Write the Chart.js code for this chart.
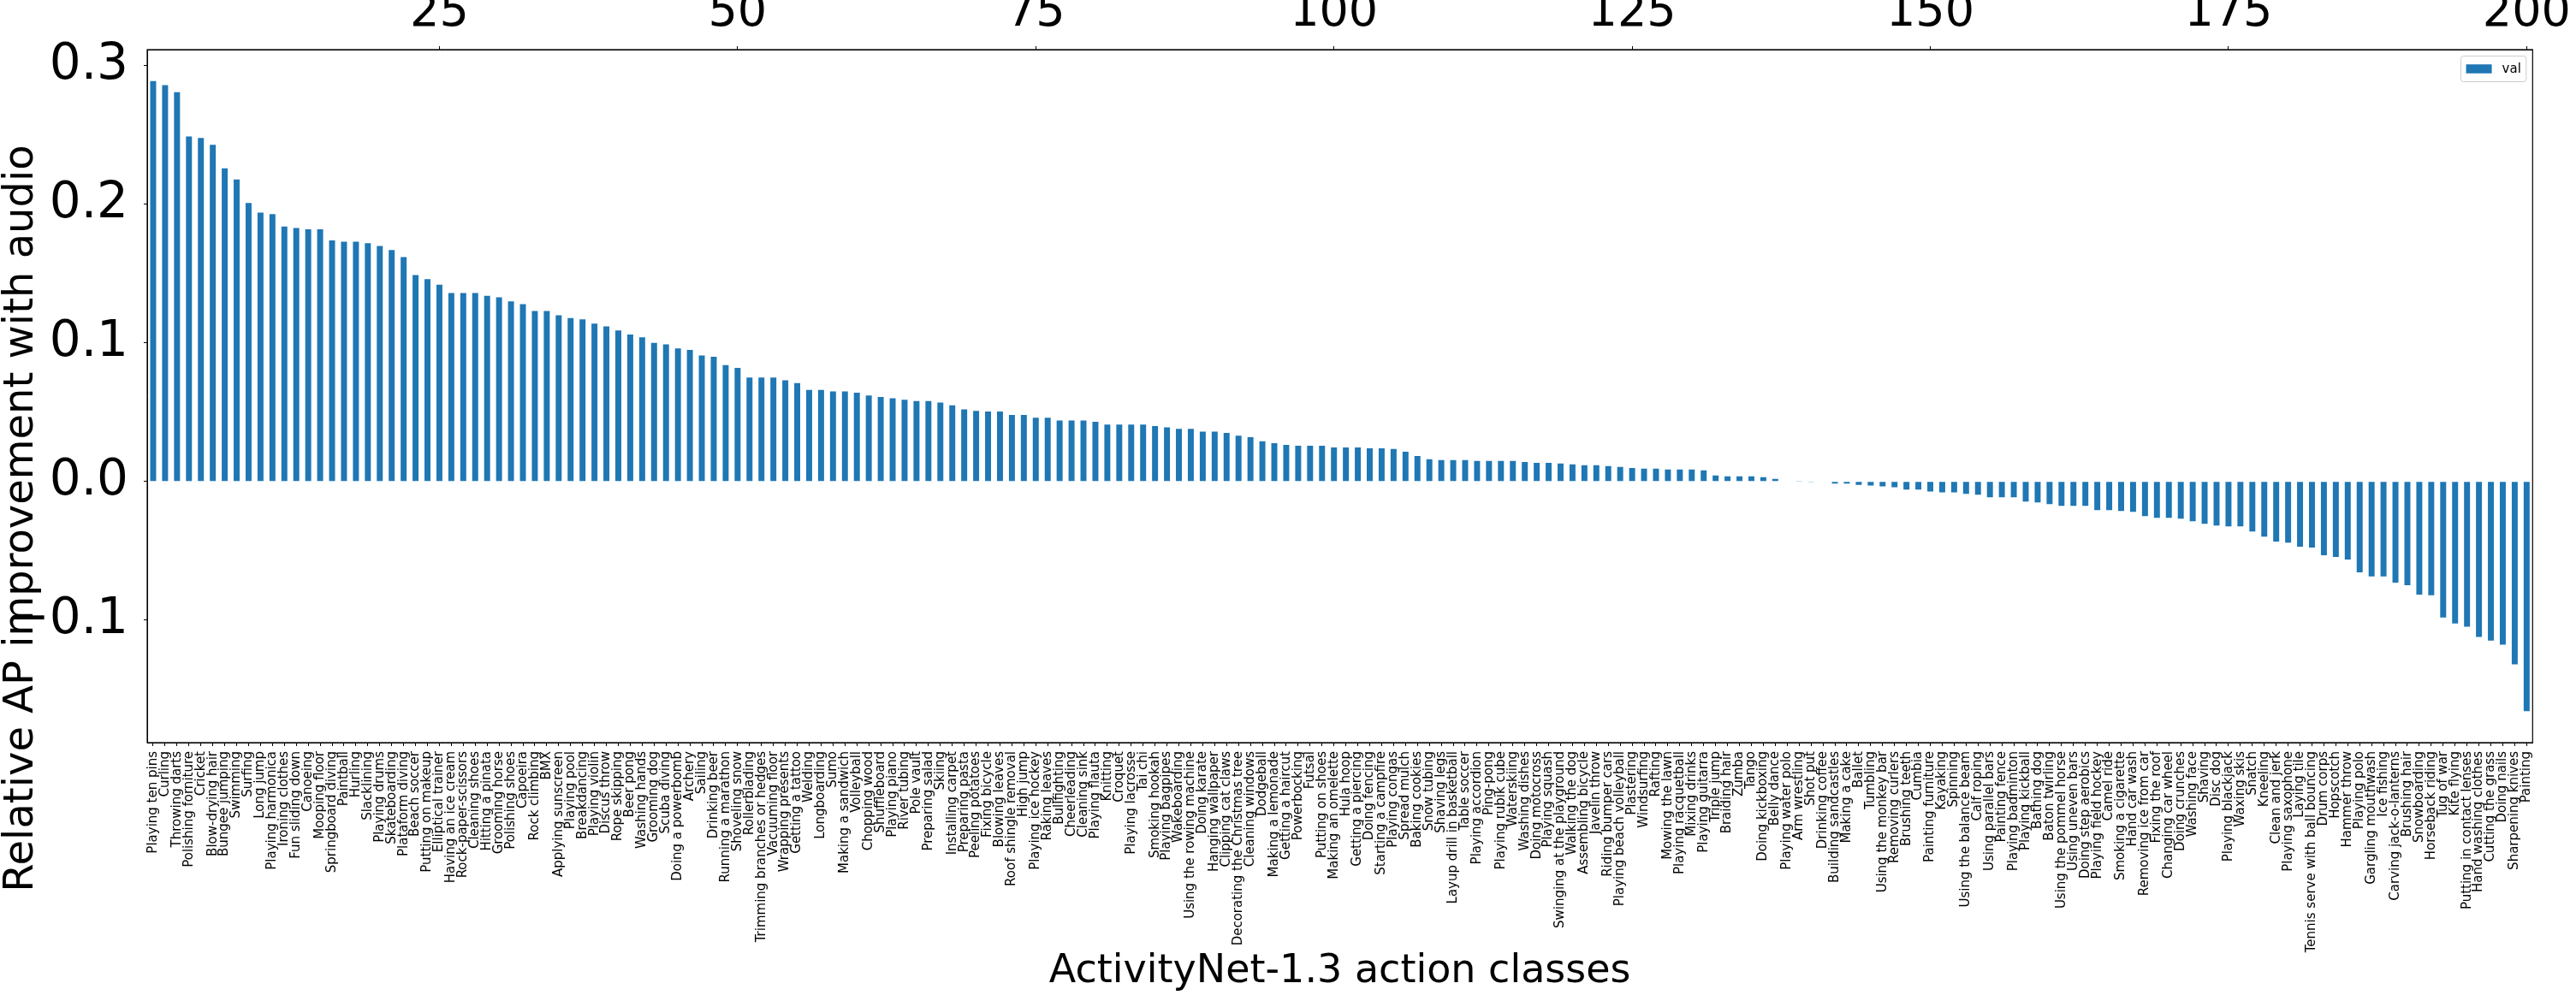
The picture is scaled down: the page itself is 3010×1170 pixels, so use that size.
<!DOCTYPE html>
<html><head><meta charset="utf-8">
<script src="https://cdn.jsdelivr.net/npm/chart.js@4.4.1/dist/chart.umd.min.js"></script>
<style>html,body{margin:0;padding:0;background:#fff;} #wrap{width:3010px;height:1170px;}</style>
</head><body><div id="wrap"><canvas id="c" width="3010" height="1170"></canvas></div>
<script>
const categories = [
"Playing ten pins","Curling","Throwing darts","Polishing forniture","Cricket","Blow-drying hair","Bungee jumping","Swimming","Surfing","Long jump",
"Playing harmonica","Ironing clothes","Fun sliding down","Canoeing","Mooping floor","Springboard diving","Paintball","Hurling","Slacklining","Playing drums",
"Skateboarding","Plataform diving","Beach soccer","Putting on makeup","Elliptical trainer","Having an ice cream","Rock-paper-scissors","Cleaning shoes","Hitting a pinata","Grooming horse",
"Polishing shoes","Capoeira","Rock climbing","BMX","Applying sunscreen","Playing pool","Breakdancing","Playing violin","Discus throw","Rope skipping",
"Beer pong","Washing hands","Grooming dog","Scuba diving","Doing a powerbomb","Archery","Sailing","Drinking beer","Running a marathon","Shoveling snow",
"Rollerblading","Trimming branches or hedges","Vacuuming floor","Wrapping presents","Getting a tattoo","Welding","Longboarding","Sumo","Making a sandwich","Volleyball",
"Chopping wood","Shuffleboard","Playing piano","River tubing","Pole vault","Preparing salad","Skiing","Installing carpet","Preparing pasta","Peeling potatoes",
"Fixing bicycle","Blowing leaves","Roof shingle removal","High jump","Playing ice hockey","Raking leaves","Bullfighting","Cheerleading","Cleaning sink","Playing flauta",
"Knitting","Croquet","Playing lacrosse","Tai chi","Smoking hookah","Playing bagpipes","Wakeboarding","Using the rowing machine","Doing karate","Hanging wallpaper",
"Clipping cat claws","Decorating the Christmas tree","Cleaning windows","Dodgeball","Making a lemonade","Getting a haircut","Powerbocking","Futsal","Putting on shoes","Making an omelette",
"Hula hoop","Getting a piercing","Doing fencing","Starting a campfire","Playing congas","Spread mulch","Baking cookies","Snow tubing","Shaving legs","Layup drill in basketball",
"Table soccer","Playing accordion","Ping-pong","Playing rubik cube","Waterskiing","Washing dishes","Doing motocross","Playing squash","Swinging at the playground","Walking the dog",
"Assembling bicycle","Javelin throw","Riding bumper cars","Playing beach volleyball","Plastering","Windsurfing","Rafting","Mowing the lawn","Playing racquetball","Mixing drinks",
"Playing guitarra","Triple jump","Braiding hair","Zumba","Tango","Doing kickboxing","Belly dance","Playing water polo","Arm wrestling","Shot put",
"Drinking coffee","Building sandcastles","Making a cake","Ballet","Tumbling","Using the monkey bar","Removing curlers","Brushing teeth","Cumbia","Painting furniture",
"Kayaking","Spinning","Using the balance beam","Calf roping","Using parallel bars","Painting fence","Playing badminton","Playing kickball","Bathing dog","Baton twirling",
"Using the pommel horse","Using uneven bars","Doing step aerobics","Playing field hockey","Camel ride","Smoking a cigarette","Hand car wash","Removing ice from car","Fixing the roof","Changing car wheel",
"Doing crunches","Washing face","Shaving","Disc dog","Playing blackjack","Waxing skis","Snatch","Kneeling","Clean and jerk","Playing saxophone",
"Laying tile","Tennis serve with ball bouncing","Drum corps","Hopscotch","Hammer throw","Playing polo","Gargling mouthwash","Ice fishing","Carving jack-o-lanterns","Brushing hair",
"Snowboarding","Horseback riding","Tug of war","Kite flying","Putting in contact lenses","Hand washing clothes","Cutting the grass","Doing nails","Sharpening knives","Painting"
];
const values = [
0.289,0.286,0.281,0.249,0.248,0.243,0.226,0.218,0.201,0.194,
0.193,0.184,0.183,0.182,0.182,0.174,0.173,0.173,0.172,0.170,
0.167,0.162,0.149,0.146,0.142,0.136,0.136,0.136,0.134,0.133,
0.130,0.128,0.123,0.123,0.120,0.118,0.117,0.114,0.112,0.109,
0.106,0.104,0.100,0.099,0.096,0.095,0.091,0.090,0.084,0.082,
0.075,0.075,0.075,0.073,0.071,0.066,0.066,0.065,0.065,0.064,
0.062,0.061,0.060,0.059,0.058,0.058,0.057,0.055,0.052,0.051,
0.0505,0.0505,0.048,0.048,0.046,0.046,0.044,0.044,0.044,0.043,
0.041,0.041,0.041,0.041,0.040,0.039,0.038,0.038,0.036,0.036,
0.035,0.033,0.032,0.029,0.0277,0.0264,0.0258,0.0258,0.0258,0.0246,
0.0246,0.0246,0.0240,0.0240,0.0234,0.0215,0.0184,0.0160,0.0154,0.0154,
0.0154,0.0148,0.0148,0.0148,0.0148,0.0141,0.0135,0.0135,0.0129,0.0123,
0.0117,0.0117,0.0111,0.0105,0.0098,0.0092,0.0092,0.0086,0.0086,0.0086,
0.0080,0.0043,0.0037,0.0037,0.0037,0.0031,0.0018,0.0003,0.0001,-0.0001,
-0.0003,-0.0016,-0.0016,-0.0025,-0.0029,-0.0035,-0.0041,-0.0059,-0.0059,-0.0072,
-0.0078,-0.0078,-0.0090,-0.0096,-0.0115,-0.0115,-0.0115,-0.0145,-0.0152,-0.0164,
-0.0176,-0.0176,-0.0176,-0.0207,-0.0207,-0.0213,-0.0219,-0.0250,-0.0262,-0.0262,
-0.0268,-0.0287,-0.0305,-0.0318,-0.0324,-0.0324,-0.0361,-0.0398,-0.0434,-0.0441,
-0.0471,-0.0477,-0.0533,-0.0545,-0.0564,-0.0656,-0.0686,-0.0686,-0.0730,-0.0748,
-0.0816,-0.0822,-0.0982,-0.1025,-0.1049,-0.1123,-0.1148,-0.1178,-0.1320,-0.1658
];
const yTickValues = [-0.1, 0.0, 0.1, 0.2, 0.3];
const topTickValues = [25, 50, 75, 100, 125, 150, 175, 200];
const seriesName = 'val';
const yTitle = 'Relative AP improvement with audio';
const xTitle = 'ActivityNet-1.3 action classes';

const BLUE = '#1f77b4';
const FONT = 'DejaVu Sans';
Chart.defaults.font.family = FONT;
Chart.defaults.font.size = 15;
Chart.defaults.color = '#000';

const framePlugin = {
  id: 'frame',
  afterDraw(chart) {
    const {ctx, chartArea: a} = chart;
    ctx.save();
    ctx.strokeStyle = '#000';
    ctx.lineWidth = 1.2;
    ctx.strokeRect(a.left, a.top, a.right - a.left, a.bottom - a.top);
    ctx.restore();
  }
};

const legendPlugin = {
  id: 'mplLegend',
  afterDraw(chart) {
    const {ctx, chartArea: a} = chart;
    const fs = 15;
    ctx.save();
    ctx.font = fs + 'px "' + FONT + '"';
    const tw = ctx.measureText(chart.data.datasets[0].label).width;
    const pad = 6, hl = 30, hh = 10.5, gap = 12, h = 30;
    const w = pad * 2 + hl + gap + tw;
    const x = a.right - 7.5 - w, y = a.top + 7.5;
    ctx.beginPath();
    ctx.roundRect(x, y, w, h, 3);
    ctx.fillStyle = 'rgba(255,255,255,0.8)';
    ctx.fill();
    ctx.strokeStyle = '#cccccc';
    ctx.lineWidth = 1;
    ctx.stroke();
    ctx.fillStyle = BLUE;
    ctx.fillRect(x + pad, y + h / 2 - hh / 2, hl, hh);
    ctx.fillStyle = '#000';
    ctx.textBaseline = 'middle';
    ctx.textAlign = 'left';
    ctx.fillText(chart.data.datasets[0].label, x + pad + hl + gap, y + h / 2 + 1);
    ctx.restore();
  }
};

const yTitlePlugin = {
  id: 'yTitle',
  afterDraw(chart) {
    const {ctx} = chart;
    ctx.save();
    ctx.font = '48px "' + FONT + '"';
    ctx.fillStyle = '#000';
    ctx.translate(26, 606);
    ctx.rotate(-Math.PI / 2);
    ctx.textAlign = 'center';
    ctx.textBaseline = 'middle';
    ctx.fillText(yTitle, 0, 0);
    ctx.restore();
  }
};

const fmtY = v => {
  const r = Math.round(v * 10) / 10;
  if (r < 0) return '\u2212' + Math.abs(r).toFixed(1);
  return Math.abs(r).toFixed(1);
};

new Chart(document.getElementById('c'), {
  type: 'bar',
  data: {
    labels: categories,
    datasets: [{
      label: seriesName,
      data: values,
      backgroundColor: BLUE,
      borderWidth: 0,
      barPercentage: 0.5,
      categoryPercentage: 1.0,
      xAxisID: 'x',
      yAxisID: 'y'
    }]
  },
  options: {
    responsive: false,
    animation: false,
    devicePixelRatio: 1,
    layout: {padding: {left: 0, right: 48, top: 0, bottom: 0}},
    plugins: {legend: {display: false}, tooltip: {enabled: false}},
    scales: {
      x: {
        type: 'category',
        position: 'bottom',
        offset: true,
        grid: {display: true, drawOnChartArea: false, drawTicks: true, tickLength: 4, tickColor: '#000', tickWidth: 1, offset: false},
        border: {display: true, color: '#000', width: 1},
        ticks: {autoSkip: false, maxRotation: 90, minRotation: 90, font: {family: FONT, size: 15}, color: '#000', padding: 6},
        title: {display: true, text: xTitle, font: {family: FONT, size: 46}, color: '#000', padding: {top: 0, bottom: 6}},
        afterFit: s => { s.height = 302; }
      },
      xTop: {
        type: 'linear',
        position: 'top',
        offset: false,
        min: 0.5,
        max: 200.5,
        afterBuildTicks: ax => { ax.ticks = topTickValues.map(v => ({value: v})); },
        grid: {display: true, drawOnChartArea: false, drawTicks: true, tickLength: 4, tickColor: '#000', tickWidth: 1, offset: false},
        border: {display: true, color: '#000', width: 1},
        ticks: {font: {family: FONT, size: 54}, color: '#000', padding: 6, callback: v => String(v)},
        afterFit: s => { s.height = 58; }
      },
      y: {
        type: 'linear',
        position: 'left',
        min: -0.1885,
        max: 0.3117,
        afterBuildTicks: ax => { ax.ticks = yTickValues.map(v => ({value: v})); },
        grid: {display: true, drawOnChartArea: false, drawTicks: true, tickLength: 4, tickColor: '#000', tickWidth: 1},
        border: {display: true, color: '#000', width: 1},
        ticks: {font: {family: FONT, size: 58}, color: '#000', padding: 18, callback: v => fmtY(v)},
        afterFit: s => { s.width = 172; }
      }
    }
  },
  plugins: [framePlugin, legendPlugin, yTitlePlugin]
});
</script>
</body></html>
